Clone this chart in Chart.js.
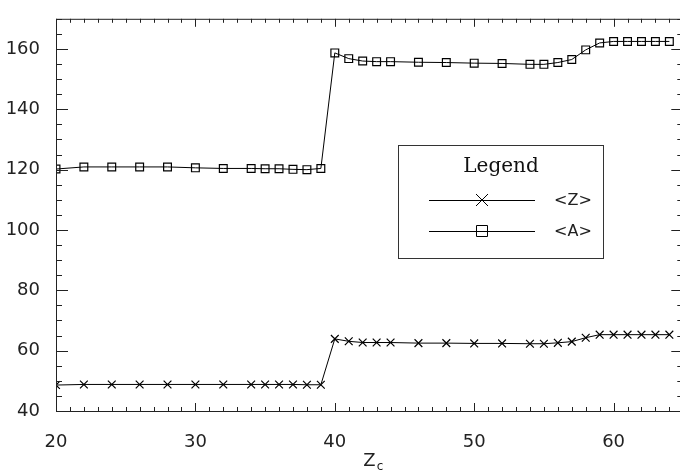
<!DOCTYPE html>
<html>
<head>
<meta charset="utf-8">
<script src="https://cdn.jsdelivr.net/npm/chart.js@4/dist/chart.umd.min.js"></script>
<style>
  html, body { margin: 0; padding: 0; background: #fff; overflow: hidden; }
  #wrap { width: 690px; height: 473px; }
</style>
</head>
<body>
<div id="wrap"><canvas id="zaChart" width="690" height="473"></canvas></div>
<script>
// Zc
const zc = [20, 22, 24, 26, 28, 30, 32, 34, 35, 36, 37, 38, 39, 40, 41, 42, 43, 44, 46, 48,
  50, 52, 54, 55, 56, 57, 58, 59, 60, 61, 62, 63, 64];
// <Z>
const meanZ = [48.6, 48.8, 48.8, 48.8, 48.8, 48.8, 48.8, 48.8, 48.8, 48.8, 48.8, 48.7, 48.7,
  63.9, 63.1, 62.7, 62.7, 62.7, 62.5, 62.5,
  62.4, 62.4, 62.3, 62.3, 62.6, 63.0, 64.3, 65.3, 65.3, 65.3, 65.3, 65.3, 65.3];
// <A>
const meanA = [120.2, 120.9, 120.9, 120.9, 120.9, 120.6, 120.4, 120.4, 120.3, 120.3, 120.1, 120.0, 120.4,
  158.7, 156.8, 156.0, 155.8, 155.8, 155.6, 155.5,
  155.3, 155.2, 154.9, 154.9, 155.5, 156.5, 159.7, 162.0, 162.5, 162.5, 162.5, 162.5, 162.5];
const seriesNames = ['<Z>', '<A>'];
const xTicks = [20, 30, 40, 50, 60];
const yTicks = [40, 60, 80, 100, 120, 140, 160];

const tickFont = { family: 'DejaVu Sans', size: 18 };
const ink = '#222';

// 凡例のマーカー
function legendMarker(ctx, style, cx, cy) {
  ctx.beginPath();
  if (style === 'rect') {
    ctx.rect(cx - 5.5, cy - 5.5, 11, 11);
  } else {
    ctx.moveTo(cx - 6, cy - 6); ctx.lineTo(cx + 6, cy + 6);
    ctx.moveTo(cx + 6, cy - 6); ctx.lineTo(cx - 6, cy + 6);
  }
  ctx.stroke();
}

// 枠と内向きの目盛り、凡例
const framePlugin = {
  id: 'frame',
  afterDraw(chart) {
    const { ctx, chartArea: a, scales: { x, y } } = chart;
    ctx.save();
    ctx.strokeStyle = '#222';
    ctx.lineWidth = 1;
    ctx.strokeRect(a.left + 0.5, a.top + 0.5, a.right - a.left - 1, a.bottom - a.top);

    ctx.beginPath();
    // x 目盛り
    for (let v = x.min; v <= x.max; v++) {
      const px = Math.round(x.getPixelForValue(v)) + 0.5;
      const len = xTicks.includes(v) ? 8 : 4;
      ctx.moveTo(px, a.bottom); ctx.lineTo(px, a.bottom - len);
      ctx.moveTo(px, a.top); ctx.lineTo(px, a.top + len);
    }
    // y 目盛り
    for (let v = y.min; v <= y.max; v += 5) {
      const py = Math.round(y.getPixelForValue(v)) + 0.5;
      const len = yTicks.includes(v) ? 12 : 6;
      ctx.moveTo(a.left, py); ctx.lineTo(a.left + len, py);
      ctx.moveTo(a.right, py); ctx.lineTo(a.right - len, py);
    }
    ctx.stroke();

    // x 軸タイトル Z_c
    ctx.fillStyle = ink;
    ctx.textBaseline = 'middle';
    ctx.textAlign = 'left';
    ctx.font = '18px "DejaVu Sans"';
    const zw = ctx.measureText('Z').width;
    const tx = 373 - (zw + 7) / 2;
    ctx.fillText('Z', tx, 461);
    ctx.font = '12px "DejaVu Sans"';
    ctx.fillText('c', tx + zw + 1, 467);

    // 凡例
    const box = { left: 398, top: 145, right: 603, bottom: 258 };
    ctx.strokeStyle = '#333';
    ctx.strokeRect(box.left + 0.5, box.top + 0.5, box.right - box.left, box.bottom - box.top);
    ctx.textAlign = 'center';
    ctx.font = '20px "DejaVu Serif"';
    ctx.fillStyle = '#111';
    ctx.fillText('Legend', 501, 167);

    const rows = [200, 231];
    chart.data.datasets.forEach((ds, i) => {
      const ry = rows[i] + 0.5;
      ctx.strokeStyle = '#000';
      ctx.lineWidth = 1;
      ctx.beginPath();
      ctx.moveTo(429, ry); ctx.lineTo(535, ry);
      ctx.stroke();
      legendMarker(ctx, ds.pointStyle, 482, rows[i]);
      ctx.fillStyle = ink;
      ctx.font = '16px "DejaVu Sans"';
      ctx.fillText(ds.label, 573, rows[i] + 1);
    });
    ctx.restore();
  }
};

const ctx = document.getElementById('zaChart');
const myChart = new Chart(ctx, {
  type: 'line',
  data: {
    datasets: [{
      label: seriesNames[0],
      data: zc.map((v, i) => ({ x: v, y: meanZ[i] })),
      pointStyle: 'crossRot',
    }, {
      label: seriesNames[1],
      data: zc.map((v, i) => ({ x: v, y: meanA[i] })),
      pointStyle: 'rect',
    }].map(ds => Object.assign(ds, {
      borderColor: '#000',
      borderWidth: 1,
      pointRadius: 5.5,
      pointBorderWidth: 1.2,
      pointBorderColor: '#000',
      pointBackgroundColor: 'rgba(0,0,0,0)',
      tension: 0,
    }))
  },
  options: {
    responsive: false,
    animation: false,
    devicePixelRatio: 1,
    layout: { padding: { top: 6, right: 1, left: 0, bottom: 0 } },
    scales: {
      x: {
        type: 'linear',
        min: 20,
        max: 65,
        afterBuildTicks: (scale) => { scale.ticks = xTicks.map(v => ({ value: v })); },
        afterFit: (scale) => { scale.height = 62; },
        grid: { display: false },
        border: { display: false },
        ticks: { font: tickFont, color: ink, padding: 13, maxRotation: 0 },
      },
      y: {
        min: 40,
        max: 170,
        afterBuildTicks: (scale) => { scale.ticks = yTicks.map(v => ({ value: v })); },
        afterFit: (scale) => { scale.width = 56; },
        grid: { display: false },
        border: { display: false },
        ticks: { font: tickFont, color: ink, padding: 8 },
      }
    },
    plugins: {
      legend: { display: false },
      tooltip: { enabled: false },
    }
  },
  plugins: [framePlugin]
});
</script>
</body>
</html>
